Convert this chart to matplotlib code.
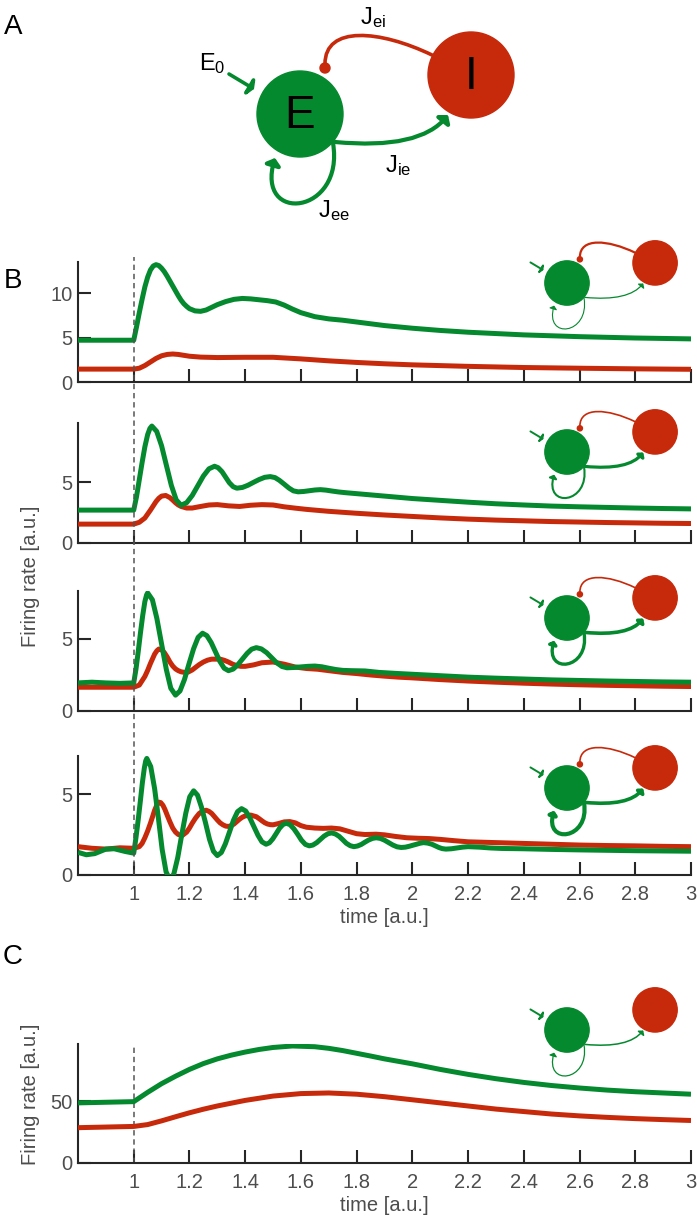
import numpy as np
import matplotlib
matplotlib.use('Agg')
import matplotlib.pyplot as plt
from matplotlib.patches import Circle, FancyArrowPatch
from matplotlib.path import Path

plt.rcParams['font.family'] = ['Liberation Sans', 'DejaVu Sans']
plt.rcParams['mathtext.fontset'] = 'custom'
plt.rcParams['mathtext.rm'] = 'Liberation Sans'
plt.rcParams['mathtext.it'] = 'Liberation Sans'

GREEN = '#05892E'
RED = '#C7290B'
DARK = '#262626'
TICKC = '#4d4d4d'

# ---------------- data (time, rate) ----------------
xticks = [1.0, 1.2, 1.4, 1.6, 1.8, 2.0, 2.2, 2.4, 2.6, 2.8, 3.0]
xtick_labels = ['1', '1.2', '1.4', '1.6', '1.8', '2', '2.2', '2.4', '2.6', '2.8', '3']

b1_green = np.array([
    (0.80, 4.7), (1.00, 4.7), (1.01, 6.2), (1.02, 7.8), (1.03, 9.3), (1.04, 10.7), (1.05, 11.8),
    (1.06, 12.6), (1.07, 13.05), (1.08, 13.2), (1.09, 13.1), (1.10, 12.8), (1.11, 12.4), (1.12, 11.9),
    (1.13, 11.35), (1.14, 10.8), (1.15, 10.25), (1.16, 9.7), (1.17, 9.2), (1.18, 8.8), (1.19, 8.5),
    (1.20, 8.25), (1.22, 8.0), (1.24, 7.95), (1.26, 8.1), (1.28, 8.4), (1.30, 8.7), (1.33, 9.05),
    (1.36, 9.3), (1.39, 9.4), (1.42, 9.35), (1.45, 9.25), (1.48, 9.15), (1.51, 9.0), (1.54, 8.65),
    (1.57, 8.2), (1.60, 7.8), (1.65, 7.35), (1.70, 7.1), (1.75, 6.95), (1.80, 6.75), (1.90, 6.35),
    (2.00, 6.05), (2.10, 5.8), (2.20, 5.6), (2.40, 5.3), (2.60, 5.1), (2.80, 4.95), (3.00, 4.85)])
b1_red = np.array([
    (0.80, 1.45), (1.00, 1.45), (1.02, 1.55), (1.04, 1.85), (1.06, 2.25), (1.08, 2.65), (1.10, 2.95),
    (1.12, 3.1), (1.14, 3.15), (1.16, 3.1), (1.18, 3.0), (1.20, 2.9), (1.24, 2.8), (1.30, 2.75),
    (1.40, 2.78), (1.50, 2.78), (1.60, 2.6), (1.70, 2.38), (1.80, 2.2), (1.90, 2.05), (2.00, 1.93),
    (2.20, 1.76), (2.40, 1.63), (2.60, 1.55), (2.80, 1.48), (3.00, 1.43)])

b2_green = np.array([
    (0.80, 2.7), (1.00, 2.7), (1.01, 3.8), (1.02, 5.2), (1.03, 6.6), (1.04, 7.9), (1.05, 8.9),
    (1.058, 9.4), (1.065, 9.6), (1.0825, 9.16), (1.10, 7.98), (1.1175, 6.35), (1.135, 4.73),
    (1.1525, 3.54), (1.17, 3.1), (1.19, 3.31), (1.21, 3.9), (1.23, 4.7), (1.25, 5.5), (1.27, 6.09),
    (1.29, 6.3), (1.303, 6.18), (1.317, 5.85), (1.33, 5.4), (1.343, 4.95), (1.357, 4.62), (1.37, 4.5),
    (1.39, 4.56), (1.41, 4.74), (1.43, 4.98), (1.45, 5.21), (1.47, 5.39), (1.49, 5.45), (1.507, 5.37),
    (1.523, 5.14), (1.54, 4.83), (1.557, 4.51), (1.573, 4.28), (1.59, 4.2), (1.61, 4.23), (1.63, 4.29),
    (1.65, 4.35), (1.67, 4.38), (1.69, 4.34), (1.71, 4.27), (1.735, 4.19), (1.76, 4.13), (1.80, 4.05),
    (1.85, 3.95), (1.90, 3.85), (2.00, 3.65), (2.10, 3.5), (2.20, 3.35), (2.30, 3.22), (2.40, 3.12),
    (2.50, 3.03), (2.60, 2.97), (2.70, 2.92), (2.80, 2.87), (2.90, 2.83), (3.00, 2.8)])
b2_red = np.array([
    (0.80, 1.55), (1.00, 1.55), (1.02, 1.7), (1.04, 2.05), (1.06, 2.7), (1.07, 3.05), (1.08, 3.4),
    (1.09, 3.67), (1.10, 3.85), (1.115, 3.9), (1.13, 3.72), (1.14, 3.52), (1.15, 3.3), (1.16, 3.12),
    (1.17, 3.0), (1.19, 2.87), (1.21, 2.87), (1.24, 3.0), (1.27, 3.12), (1.30, 3.15), (1.34, 3.05),
    (1.38, 3.0), (1.42, 3.1), (1.46, 3.15), (1.50, 3.12), (1.54, 2.97), (1.58, 2.86), (1.62, 2.76),
    (1.70, 2.6), (1.80, 2.44), (1.90, 2.3), (2.00, 2.18), (2.10, 2.06), (2.20, 1.96), (2.30, 1.88),
    (2.40, 1.82), (2.50, 1.76), (2.60, 1.72), (2.70, 1.68), (2.80, 1.65), (2.90, 1.62), (3.00, 1.6)])

b3_green = np.array([
    (0.80, 1.95), (0.85, 2.0), (0.90, 1.95), (0.95, 1.92), (1.00, 1.95), (1.008, 2.9), (1.016, 4.1),
    (1.024, 5.4), (1.032, 6.6), (1.04, 7.6), (1.046, 8.05), (1.05, 8.2), (1.067, 7.72), (1.083, 6.43),
    (1.10, 4.65), (1.117, 2.88), (1.133, 1.58), (1.15, 1.1), (1.166, 1.39), (1.182, 2.18), (1.198, 3.25),
    (1.215, 4.33), (1.231, 5.11), (1.247, 5.4), (1.2625, 5.23), (1.278, 4.75), (1.2935, 4.1),
    (1.309, 3.45), (1.3245, 2.97), (1.34, 2.8), (1.357, 2.91), (1.373, 3.2), (1.39, 3.6), (1.407, 4.0),
    (1.423, 4.29), (1.44, 4.4), (1.458, 4.31), (1.477, 4.05), (1.495, 3.7), (1.513, 3.35),
    (1.532, 3.09), (1.55, 3.0), (1.575, 3.02), (1.60, 3.06), (1.625, 3.1), (1.65, 3.12), (1.675, 3.07),
    (1.70, 2.97), (1.725, 2.88), (1.75, 2.82), (1.78, 2.8), (1.83, 2.78), (1.88, 2.68), (1.95, 2.6),
    (2.00, 2.55), (2.10, 2.45), (2.20, 2.35), (2.30, 2.28), (2.40, 2.22), (2.50, 2.16), (2.60, 2.12),
    (2.70, 2.08), (2.80, 2.05), (2.90, 2.02), (3.00, 2.0)])
b3_red = np.array([
    (0.80, 1.65), (0.90, 1.65), (1.00, 1.65), (1.02, 1.8), (1.04, 2.4), (1.05, 2.82), (1.06, 3.3),
    (1.075, 3.95), (1.083, 4.18), (1.09, 4.3), (1.10, 4.25), (1.11, 4.05), (1.12, 3.75), (1.13, 3.4),
    (1.14, 3.12), (1.15, 2.92), (1.16, 2.8), (1.17, 2.72), (1.183, 2.68), (1.195, 2.7), (1.21, 2.85),
    (1.22, 3.0), (1.235, 3.22), (1.25, 3.4), (1.265, 3.53), (1.28, 3.6), (1.31, 3.6), (1.325, 3.52),
    (1.34, 3.4), (1.355, 3.25), (1.37, 3.15), (1.385, 3.1), (1.40, 3.1), (1.43, 3.2), (1.46, 3.35),
    (1.50, 3.4), (1.54, 3.25), (1.58, 3.05), (1.62, 2.95), (1.66, 2.9), (1.70, 2.8), (1.75, 2.68),
    (1.80, 2.6), (1.85, 2.5), (1.90, 2.42), (1.95, 2.35), (2.00, 2.3), (2.10, 2.18), (2.20, 2.08),
    (2.30, 2.0), (2.40, 1.93), (2.50, 1.87), (2.60, 1.82), (2.70, 1.78), (2.80, 1.75), (2.90, 1.72),
    (3.00, 1.7)])

b4_green = np.array([
    (0.80, 1.4), (0.83, 1.25), (0.86, 1.32), (0.90, 1.6), (0.93, 1.62), (0.97, 1.45), (1.00, 1.35),
    (1.008, 2.3), (1.016, 3.4), (1.024, 4.6), (1.031, 5.7), (1.038, 6.6), (1.043, 7.05), (1.047, 7.2),
    (1.061, 6.7), (1.075, 5.33), (1.089, 3.45), (1.102, 1.58), (1.116, 0.2), (1.13, -0.3),
    (1.144, 0.07), (1.158, 1.08), (1.172, 2.45), (1.187, 3.83), (1.201, 4.83), (1.215, 5.2),
    (1.229, 4.93), (1.243, 4.2), (1.258, 3.2), (1.272, 2.2), (1.286, 1.47), (1.30, 1.2),
    (1.3145, 1.39), (1.329, 1.93), (1.3435, 2.65), (1.358, 3.38), (1.3725, 3.91), (1.387, 4.1),
    (1.402, 3.95), (1.416, 3.55), (1.431, 3.0), (1.446, 2.45), (1.46, 2.05), (1.475, 1.9),
    (1.487, 1.99), (1.499, 2.23), (1.511, 2.55), (1.523, 2.88), (1.535, 3.11), (1.547, 3.2),
    (1.561, 3.11), (1.575, 2.85), (1.589, 2.5), (1.602, 2.15), (1.616, 1.89), (1.63, 1.8),
    (1.643, 1.85), (1.657, 2.0), (1.67, 2.2), (1.683, 2.4), (1.697, 2.55), (1.71, 2.6),
    (1.723, 2.54), (1.737, 2.39), (1.75, 2.18), (1.763, 1.96), (1.777, 1.81), (1.79, 1.75),
    (1.803, 1.79), (1.817, 1.89), (1.83, 2.03), (1.843, 2.16), (1.857, 2.26), (1.87, 2.3),
    (1.885, 2.26), (1.90, 2.15), (1.915, 2.0), (1.93, 1.85), (1.945, 1.74), (1.96, 1.7),
    (1.975, 1.72), (1.99, 1.78), (2.00, 1.83), (2.015, 1.9), (2.027, 1.96), (2.04, 2.0),
    (2.055, 1.97), (2.07, 1.9), (2.08, 1.82), (2.095, 1.7), (2.107, 1.63), (2.12, 1.6),
    (2.14, 1.62), (2.16, 1.67), (2.18, 1.72), (2.20, 1.75), (2.24, 1.72), (2.28, 1.67), (2.32, 1.64),
    (2.40, 1.62), (2.50, 1.58), (2.60, 1.55), (2.80, 1.5), (3.00, 1.47)])
b4_red = np.array([
    (0.80, 1.75), (0.85, 1.65), (0.90, 1.6), (0.95, 1.68), (1.00, 1.65), (1.02, 1.75), (1.03, 1.95),
    (1.04, 2.3), (1.05, 2.72), (1.06, 3.2), (1.068, 3.62), (1.075, 4.0), (1.083, 4.32), (1.09, 4.5),
    (1.097, 4.47), (1.105, 4.3), (1.112, 4.05), (1.12, 3.7), (1.13, 3.28), (1.14, 2.9), (1.15, 2.65),
    (1.16, 2.5), (1.175, 2.45), (1.19, 2.65), (1.20, 2.9), (1.21, 3.2), (1.222, 3.52), (1.235, 3.8),
    (1.248, 3.95), (1.26, 4.0), (1.27, 3.93), (1.28, 3.8), (1.29, 3.6), (1.30, 3.4), (1.31, 3.22),
    (1.32, 3.1), (1.33, 3.02), (1.34, 3.0), (1.35, 3.05), (1.36, 3.15), (1.37, 3.3), (1.38, 3.45),
    (1.39, 3.57), (1.40, 3.65), (1.42, 3.7), (1.44, 3.6), (1.45, 3.48), (1.46, 3.35), (1.47, 3.23),
    (1.48, 3.15), (1.49, 3.11), (1.50, 3.1), (1.52, 3.18), (1.54, 3.28), (1.56, 3.3), (1.58, 3.22),
    (1.60, 3.05), (1.62, 2.95), (1.65, 2.9), (1.68, 2.88), (1.71, 2.9), (1.74, 2.85), (1.77, 2.7),
    (1.80, 2.55), (1.83, 2.5), (1.87, 2.52), (1.90, 2.48), (1.94, 2.38), (1.98, 2.3), (2.02, 2.27),
    (2.06, 2.25), (2.10, 2.2), (2.15, 2.12), (2.20, 2.05), (2.30, 2.0), (2.40, 1.95), (2.50, 1.9),
    (2.60, 1.85), (2.70, 1.82), (2.80, 1.8), (2.90, 1.77), (3.00, 1.75)])

c_green = np.array([
    (0.80, 48.5), (1.00, 49.5), (1.05, 57.0), (1.10, 64.0), (1.15, 70.0), (1.20, 75.5), (1.25, 80.2),
    (1.30, 84.0), (1.35, 87.0), (1.40, 89.5), (1.45, 91.6), (1.50, 93.2), (1.57, 94.4), (1.65, 93.8),
    (1.70, 92.5), (1.75, 90.7), (1.80, 88.5), (1.85, 86.3), (1.90, 84.0), (2.00, 80.0), (2.10, 75.5),
    (2.20, 71.5), (2.30, 68.0), (2.40, 65.0), (2.50, 62.5), (2.60, 60.5), (2.70, 58.8), (2.80, 57.5),
    (2.90, 56.5), (3.00, 55.5)])
c_red = np.array([
    (0.80, 28.5), (1.00, 29.5), (1.05, 31.0), (1.10, 34.0), (1.15, 37.3), (1.20, 40.5), (1.25, 43.4),
    (1.30, 46.0), (1.40, 50.5), (1.50, 54.0), (1.60, 56.0), (1.70, 56.5), (1.80, 55.5), (1.90, 53.5),
    (2.00, 51.0), (2.10, 48.5), (2.20, 46.0), (2.30, 43.5), (2.40, 41.5), (2.50, 39.5), (2.60, 38.0),
    (2.70, 36.8), (2.80, 35.8), (2.90, 35.0), (3.00, 34.3)])

stim_time = 1.0

# ---------------- figure ----------------
W, H = 697, 1224
fig = plt.figure(figsize=(W / 100, H / 100), dpi=100)
XL, XR = 78, 691


def add_axes_px(top, bottom):
    return fig.add_axes([XL / W, 1 - bottom / H, (XR - XL) / W, (bottom - top) / H])


def style(ax, ymax, yticks, show_labels):
    ax.set_xlim(0.8, 3.0)
    ax.set_ylim(0, ymax)
    for s in ['top', 'right']:
        ax.spines[s].set_visible(False)
    for s in ['left', 'bottom']:
        ax.spines[s].set_linewidth(1.5)
        ax.spines[s].set_color(DARK)
    ax.set_xticks(xticks)
    ax.set_yticks(yticks)
    ax.tick_params(direction='in', length=9.5, width=1.5, color=DARK,
                   labelcolor=TICKC, labelsize=14.5, pad=4)
    ax.tick_params(axis='x', pad=7)
    if show_labels:
        ax.set_xticklabels(xtick_labels)
        ax.set_xlabel('time [a.u.]', fontsize=14.5, color=TICKC, labelpad=3)
    else:
        ax.set_xticklabels([])
    ax.patch.set_visible(False)


LW = 3.6
panels = [
    (262, 382, b1_green, b1_red, 13.5, [0, 5, 10]),
    (423, 543, b2_green, b2_red, 9.85, [0, 5]),
    (591, 711, b3_green, b3_red, 8.33, [0, 5]),
    (756, 875, b4_green, b4_red, 7.35, [0, 5]),
]
for i, (top, bot, g, r, ymax, yt) in enumerate(panels):
    ax = add_axes_px(top, bot)
    ax.plot(r[:, 0], r[:, 1], color=RED, lw=LW, solid_capstyle='butt', solid_joinstyle='round', zorder=3)
    ax.plot(g[:, 0], g[:, 1], color=GREEN, lw=LW, solid_capstyle='butt', solid_joinstyle='round', zorder=4)
    style(ax, ymax, yt, i == 3)

# dashed stimulus line spanning all B panels
axd = add_axes_px(257, 875)
axd.set_xlim(0.8, 3.0)
axd.set_ylim(0, 1)
axd.axvline(stim_time, color='#555555', lw=1.1, ls=(0, (3.5, 2.5)), zorder=10)
axd.axis('off')

# panel C
axc = add_axes_px(1044, 1163)
axc.plot(c_red[:, 0], c_red[:, 1], color=RED, lw=LW, solid_capstyle='butt', solid_joinstyle='round', zorder=3)
axc.plot(c_green[:, 0], c_green[:, 1], color=GREEN, lw=LW, solid_capstyle='butt', solid_joinstyle='round', zorder=4)
axc.axvline(stim_time, color='#555555', lw=1.1, ls=(0, (3.5, 2.5)), zorder=2)
style(axc, 96, [0, 50], True)

# y labels and panel letters
fig.text(31 / W, 1 - 576 / H, 'Firing rate [a.u.]', rotation=90, ha='center', va='center',
         fontsize=14.5, color=TICKC)
fig.text(31 / W, 1 - 1094 / H, 'Firing rate [a.u.]', rotation=90, ha='center', va='center',
         fontsize=14.5, color=TICKC)
for lab, (px, py) in {'A': (13, 27), 'B': (13, 281), 'C': (13, 957)}.items():
    fig.text(px / W, 1 - py / H, lab, ha='center', va='center', fontsize=20, color='black')

# ---------------- network diagrams (pixel overlay) ----------------
ov = fig.add_axes([0, 0, 1, 1])
ov.set_xlim(0, W)
ov.set_ylim(H, 0)
ov.axis('off')
ov.patch.set_visible(False)


def draw_net(ex, ey, s, w_ee, w_ie, w_ei, labels=False, w_e0=None):
    def P(dx, dy):
        return (ex + s * dx, ey + s * dy)
    if w_e0 is None:
        w_e0 = w_ie
    r = 43 * s
    hs = 9 * s
    # E0 input (short flat head)
    ov.add_patch(FancyArrowPatch(path=Path([P(-71, -40), P(-46, -25)]),
                                 arrowstyle='-|>,head_length=0.25,head_width=0.6',
                                 mutation_scale=hs, lw=w_e0, color=GREEN, zorder=5))
    # Jee loop
    ov.add_patch(FancyArrowPatch(path=Path([P(33, 29), P(45, 101), P(-45, 111), P(-25, 44)],
                                           [Path.MOVETO, Path.CURVE4, Path.CURVE4, Path.CURVE4]),
                                 arrowstyle='-|>,head_length=0.4,head_width=0.5',
                                 mutation_scale=hs, lw=w_ee, color=GREEN, zorder=5))
    # Jie
    ov.add_patch(FancyArrowPatch(path=Path([P(35, 28), P(120, 36), P(148, 1)],
                                           [Path.MOVETO, Path.CURVE3, Path.CURVE3]),
                                 arrowstyle='-|>,head_length=0.4,head_width=0.5',
                                 mutation_scale=hs, lw=w_ie, color=GREEN, zorder=5))
    # Jei
    if w_ei:
        ov.add_patch(FancyArrowPatch(path=Path([P(132, -59), P(80, -84), P(25, -89), P(25, -50)],
                                               [Path.MOVETO, Path.CURVE4, Path.CURVE4, Path.CURVE4]),
                                     arrowstyle='-', lw=w_ei, color=RED, zorder=5))
        ov.add_patch(Circle(P(25, -46), 5 * s, color=RED, zorder=6))
    ov.add_patch(Circle(P(0, 0), r, color=GREEN, zorder=7))
    ov.add_patch(Circle(P(171, -39), r, color=RED, zorder=7))
    if labels:
        ov.text(*P(0, 2), 'E', fontsize=33, ha='center', va='center', color='black', zorder=8)
        ov.text(*P(171, -37), 'I', fontsize=33, ha='center', va='center', color='black', zorder=8)
        ov.text(*P(-88, -50), r'E$_0$', fontsize=17, ha='center', va='center', zorder=8)
        ov.text(*P(73, -96), r'J$_{\mathrm{ei}}$', fontsize=17, ha='center', va='center', zorder=8)
        ov.text(*P(98, 52), r'J$_{\mathrm{ie}}$', fontsize=17, ha='center', va='center', zorder=8)
        ov.text(*P(34, 97), r'J$_{\mathrm{ee}}$', fontsize=17, ha='center', va='center', zorder=8)


draw_net(300, 114, 1.0, 3.0, 3.0, 2.6, labels=True, w_e0=2.6)
S = 0.515
draw_net(567, 283, S, 0.8, 0.9, 1.6, w_e0=1.4)
draw_net(567, 452, S, 1.5, 2.3, 1.2, w_e0=1.4)
draw_net(567, 618, S, 2.4, 2.6, 1.2, w_e0=1.4)
draw_net(567, 788, S, 3.0, 2.6, 1.2, w_e0=1.4)
draw_net(567, 1030, S, 0.9, 1.1, 0, w_e0=1.4)

fig.savefig('out.png', dpi=100)
